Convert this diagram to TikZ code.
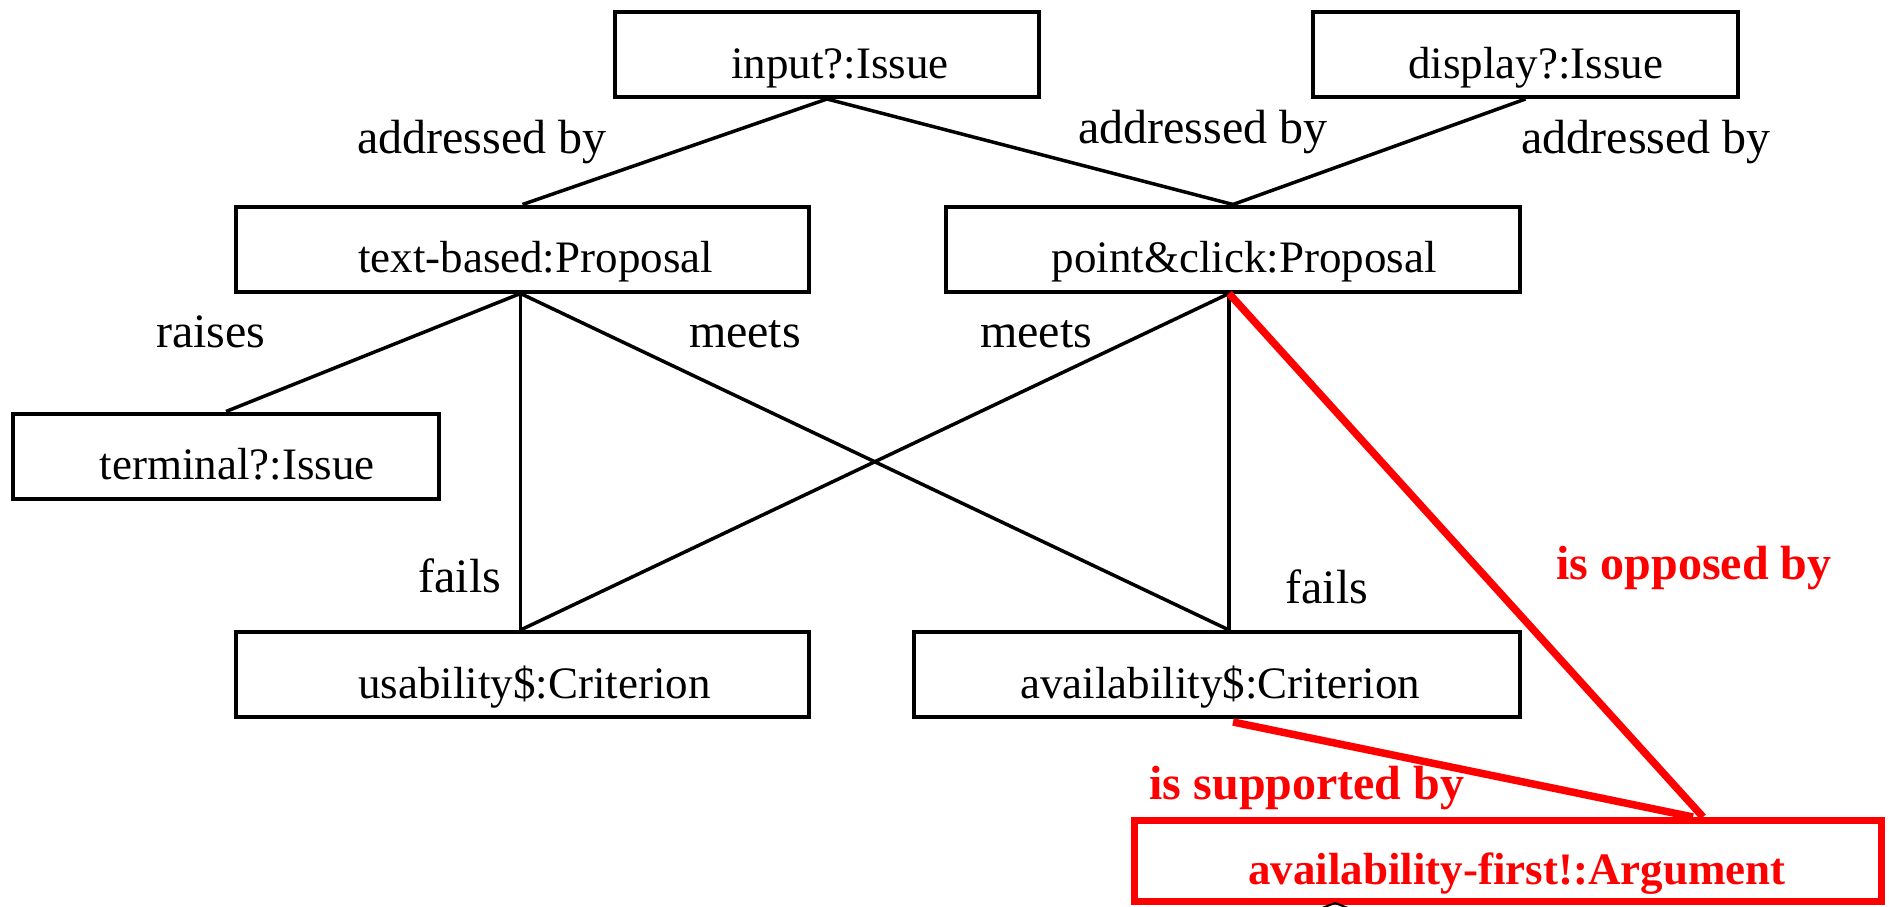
\documentclass[tikz,border=0pt]{standalone}
\usepackage{fontspec}
\setmainfont{Liberation Serif}
\usetikzlibrary{calc}
\begin{document}
\begin{tikzpicture}[x=1pt,y=-1pt,
  box/.style={draw=black, line width=4pt, minimum height=85pt, inner sep=0pt},
  argbox/.style={draw=red, line width=7pt, minimum height=81pt, inner sep=0pt},
  nodetext/.style={anchor=base, inner sep=0pt, font=\fontsize{45}{54}\selectfont},
  argtext/.style={anchor=base, inner sep=0pt, text=red, font=\fontsize{45}{54}\selectfont\bfseries},
  rel/.style={anchor=base, inner sep=0pt, font=\fontsize{48}{58}\selectfont},
  redrel/.style={anchor=base, inner sep=0pt, text=red, font=\fontsize{48}{58}\selectfont\bfseries},
  link/.style={draw=black, line width=3.5pt},
  redlink/.style={draw=red, line width=7.5pt},
]
\fill[white] (0,0) rectangle (1889,907);
\useasboundingbox (0,0) rectangle (1889,907);

% issue, proposal and criterion boxes
\node[box, minimum width=424pt] (input) at (827,54.5) {};
\node[box, minimum width=425pt] (display) at (1525.5,54.5) {};
\node[box, minimum width=573pt] (textb) at (522.5,249) {};
\node[box, minimum width=574pt] (pc) at (1233,249) {};
\node[box, minimum width=426pt] (terminal) at (226,456) {};
\node[box, minimum width=573pt] (usab) at (522.5,674.5) {};
\node[box, minimum width=606pt] (avail) at (1217,674.5) {};
\node[argbox, minimum width=747pt] (arg) at (1508,861) {};

% box captions
\node[nodetext] (inputT) at ($(input.north)+(13,68)$) {input?:Issue};
\node[nodetext] (displayT) at ($(display.north)+(10,68)$) {display?:Issue};
\node[nodetext] (textbT) at ($(textb.north)+(13,68)$) {text-based:Proposal};
\node[nodetext] (pcT) at ($(pc.north)+(11,68)$) {point\&click:Proposal};
\node[nodetext] (terminalT) at ($(terminal.north)+(11,68)$) {terminal?:Issue};
\node[nodetext] (usabT) at ($(usab.north)+(12,68)$) {usability\$:Criterion};
\node[nodetext] (availT) at ($(avail.north)+(3,68)$) {availability\$:Criterion};
\node[argtext] (argT) at ($(arg.north)+(9,67)$) {availability-first!:Argument};

% relations
\draw[link] (input.south) -- (textb.north);
\draw[link] (input.south) -- (pc.north);
\draw[link] (display.south) -- (pc.north);
\draw[link] ([xshift=-2pt]textb.south) -- (terminal.north);
\draw[link] ([xshift=-2pt]textb.south) -- ([xshift=-2pt]usab.north);
\draw[link] ([xshift=-2pt]textb.south) -- ([xshift=12pt]avail.north);
\draw[link] ([xshift=-4pt]pc.south) -- ([xshift=-2pt]usab.north);
\draw[link] ([xshift=-4pt]pc.south) -- ([xshift=12pt]avail.north);
\draw[redlink] ([xshift=-4pt]pc.south) -- ($(arg.north)+(195,0)$);
\draw[redlink] ($(avail.south)+(16,3)$) -- ($(arg.north)+(185,0)$);
\draw[black, line width=2pt] ($(arg.south)+(-186,3)$) -- ++(13,-5) -- ++(13,5);

% relation labels
\node[rel] (l1) at (482,153) {addressed by};
\node[rel] (l2) at (1203,143) {addressed by};
\node[rel] (l3) at (1646,153) {addressed by};
\node[rel] (l4) at (211,347) {raises};
\node[rel] (l5) at (745,347) {meets};
\node[rel] (l6) at (1036,347) {meets};
\node[rel] (l7) at (460,592) {fails};
\node[rel] (l8) at (1327,603) {fails};
\node[redrel] (l9) at (1694,579) {is opposed by};
\node[redrel] (l10) at (1307,799) {is supported by};
\end{tikzpicture}
\end{document}
